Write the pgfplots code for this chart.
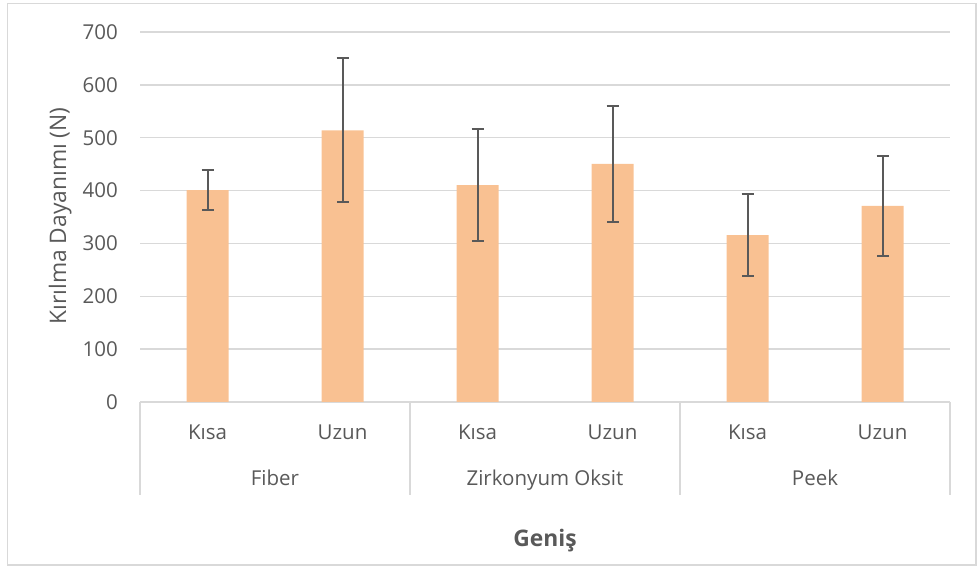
\documentclass[border=0pt]{standalone}
\usepackage{pgfplots}
\pgfplotsset{compat=1.18}
\usepackage{pgfplotstable}
\usepackage{fontspec}
\setmainfont{Open Sans}
\definecolor{barc}{HTML}{F9C192}
\definecolor{txt}{HTML}{595959}
\definecolor{gridc}{HTML}{D9D9D9}
\definecolor{errc}{HTML}{595959}

\pgfplotstableread{
x y e
0 401 37.5
1 514 136.5
2 410.5 106
3 450.5 109.5
4 315.5 77.5
5 371 94
}\datatable

\begin{document}
\begin{tikzpicture}
\useasboundingbox (0pt,0pt) rectangle (977pt,567pt);
\draw[gridc, line width=1.2pt] (7.5pt,2pt) rectangle (976pt,563.5pt);
\begin{axis}[
  at={(140pt,165pt)}, anchor=south west,
  scale only axis, width=810pt, height=370pt,
  xmin=-0.5, xmax=5.5, ymin=0, ymax=700,
  ytick={0,100,...,700},
  xtick={0,1,2,3,4,5},
  xticklabels={Kısa,Uzun,Kısa,Uzun,Kısa,Uzun},
  /pgf/number format/assume math mode=true,
  axis line style={draw=none},
  major tick length=0pt,
  ymajorgrids,
  grid style={gridc, line width=1.3pt},
  tick label style={font=\fontsize{20.5}{24}\selectfont, text=txt},
  yticklabel style={anchor=east, inner sep=0pt, xshift=-22pt},
  xticklabel style={anchor=base, inner sep=0pt, yshift=-38pt},
  clip=false,
]
\addplot[ybar, bar width=42pt, fill=barc, draw=none, line width=2pt,
  error bars/.cd, y dir=both, y explicit,
  error bar style={line width=2pt, draw=errc},
  error mark options={rotate=90, mark size=6pt, line width=2pt, draw=errc}]
  table[x=x, y=y, y error=e] {\datatable};
\end{axis}
\foreach \xx in {140,410,680,950} {
  \draw[gridc, line width=1.3pt] (\xx pt,165pt) -- (\xx pt,72pt);
}
\node[anchor=base, text=txt, font=\fontsize{20.5}{24}\selectfont, inner sep=0pt] at (275pt,81pt) {Fiber};
\node[anchor=base, text=txt, font=\fontsize{20.5}{24}\selectfont, inner sep=0pt] at (545pt,81pt) {Zirkonyum Oksit};
\node[anchor=base, text=txt, font=\fontsize{20.5}{24}\selectfont, inner sep=0pt] at (815pt,81pt) {Peek};
\node[anchor=base, text=txt, font=\bfseries\fontsize{22.8}{27}\selectfont, inner sep=0pt] at (545pt,20pt) {Geniş};
\node[anchor=base, rotate=90, text=txt, font=\fontsize{22.8}{27}\selectfont, inner sep=0pt] at (66pt,351pt) {Kırılma Dayanımı (N)};
\end{tikzpicture}
\end{document}
